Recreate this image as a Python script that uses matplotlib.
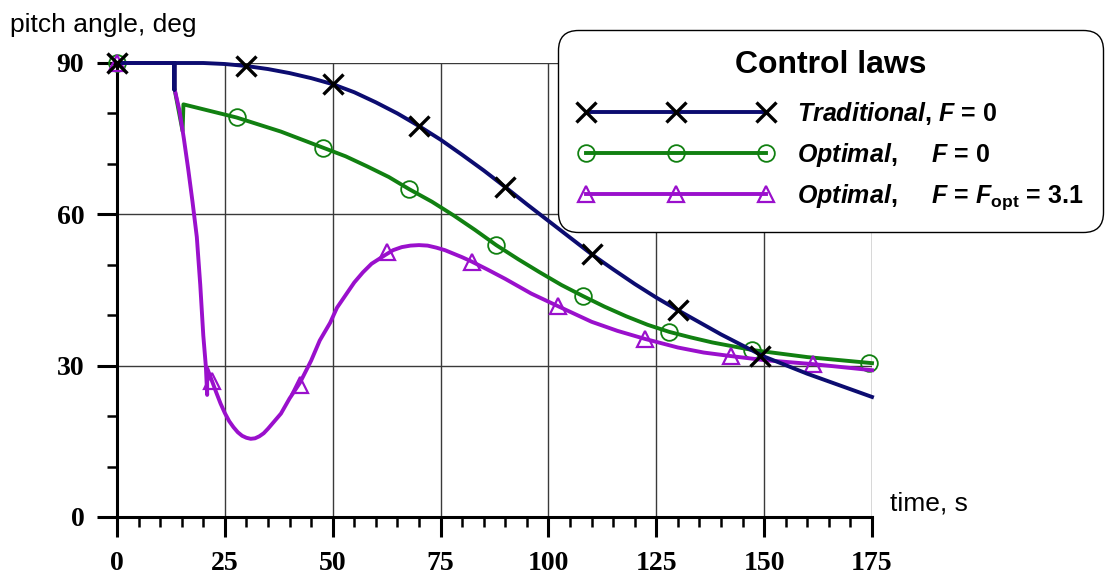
import matplotlib
matplotlib.use("Agg")
import matplotlib.pyplot as plt
from matplotlib.lines import Line2D
from matplotlib.ticker import MultipleLocator

plt.rcParams["mathtext.fontset"] = "custom"
plt.rcParams["mathtext.it"] = "Liberation Sans:italic:bold"
plt.rcParams["mathtext.rm"] = "Liberation Sans:bold"
plt.rcParams["mathtext.bf"] = "Liberation Sans:bold"

NAVY = "#0c0c70"
GREEN = "#118011"
PURPLE = "#9a10cc"

# ----- data --------------------------------------------------------------
trad_t = [0, 13.3, 13.3, 13.3, 20, 25, 30, 35, 40, 45, 50, 55, 60, 65, 70,
          75, 80, 85, 90, 95, 100, 105, 110, 115, 120, 125, 130, 140, 150,
          160, 175]
trad_y = [90, 90, 84.7, 90, 90, 89.8, 89.4, 88.8, 88.0, 87.0, 85.8, 84.2,
          82.2, 80.0, 77.5, 74.8, 71.8, 68.7, 65.4, 62.0, 58.7, 55.4, 52.1,
          49.1, 46.2, 43.5, 41.0, 36.2, 31.8, 28.4, 23.8]
trad_mk_t = [0, 30, 50, 70, 90, 110, 130, 149]
trad_mk_y = [90, 89.4, 85.8, 77.5, 65.4, 52.1, 41.0, 31.9]

opt_t = [0, 13.3, 13.3, 15.2, 15.4, 27.7, 38, 47.8, 53, 58, 63, 67.7, 73,
         78, 83, 87.9, 93, 98, 103, 108, 113, 118, 123, 128, 133, 138,
         147.3, 160, 175]
opt_y = [90, 90, 85, 76.5, 81.8, 79.2, 76.4, 73.2, 71.5, 69.5, 67.4, 65.0,
         62.5, 59.8, 56.9, 53.9, 51.1, 48.5, 46.0, 43.8, 41.7, 39.8, 38.1,
         36.7, 35.6, 34.6, 33.1, 31.7, 30.5]
opt_mk_t = [0, 27.7, 47.8, 67.7, 87.9, 108, 128, 147.3, 174.3]
opt_mk_y = [90, 79.2, 73.2, 65.0, 53.9, 43.8, 36.7, 33.1, 30.6]

fopt_t = [0, 13.3, 13.3, 14.5, 15.5, 16.5, 17.5, 18.5, 19.3, 20.0, 20.6,
          20.9, 20.9, 22, 23, 24, 25, 26, 27, 28, 29, 30, 31, 32, 33, 34,
          35, 36.5, 38, 40, 42.4, 45, 47, 49.4, 51, 53, 55, 57, 59, 62.1,
          64, 66, 68, 70, 72, 74, 76, 78, 80, 82.3, 86, 90, 96, 102.2, 110,
          116, 122.4, 130, 136, 142.3, 150, 161.4, 175]
fopt_y = [90, 90, 85, 80.5, 75, 69, 62.5, 55.5, 46, 36, 29.8, 24.2, 29.5,
          27, 24.7, 22.5, 20.6, 19.0, 17.8, 16.8, 16.1, 15.7, 15.5, 15.6,
          16.0, 16.6, 17.5, 19.0, 20.5, 23.5, 26.6, 31, 35, 38.5, 41.5,
          44, 46.5, 48.5, 50.2, 51.9, 52.9, 53.5, 53.8, 53.9, 53.8, 53.4,
          52.9, 52.2, 51.5, 50.6, 49.0, 47.2, 44.3, 41.8, 38.7, 36.9, 35.3,
          33.6, 32.6, 31.9, 31.1, 30.3, 29.1]
fopt_mk_t = [0, 22.0, 42.4, 62.6, 82.3, 102.2, 122.4, 142.3, 161.4]
fopt_mk_y = [90, 27.0, 26.2, 52.5, 50.6, 41.8, 35.3, 31.9, 30.3]

x_ticks = [0, 25, 50, 75, 100, 125, 150, 175]
y_ticks = [0, 30, 60, 90]

labels = [
    r"$\mathit{Traditional}$, $\mathit{F}$ = 0",
    r"$\mathit{Optimal}$,     $\mathit{F}$ = 0",
    r"$\mathit{Optimal}$,     $\mathit{F}$ = $\mathit{F}_{\mathrm{opt}}$ = 3.1",
]

# ----- figure -------------------------------------------------------------
fig = plt.figure(figsize=(11.05, 5.75), dpi=100)
ax = fig.add_axes([117 / 1105, 1 - 517 / 575, 755 / 1105, 454 / 575])

LW = 2.8
ax.plot(opt_t, opt_y, color=GREEN, lw=LW, zorder=3, clip_on=False)
ax.plot(opt_mk_t, opt_mk_y, ls="none", marker="o", ms=12, mfc="none",
        mec=GREEN, mew=1.3, zorder=3, clip_on=False)
ax.plot(fopt_t, fopt_y, color=PURPLE, lw=LW, zorder=4, clip_on=False)
ax.plot(fopt_mk_t, fopt_mk_y, ls="none", marker="^", ms=12, mfc="none",
        mec=PURPLE, mew=1.6, zorder=4, clip_on=False)
ax.plot(trad_t, trad_y, color=NAVY, lw=LW, zorder=5, clip_on=False)
ax.plot(trad_mk_t, trad_mk_y, ls="none", marker="x", ms=14, mec="black",
        mew=2.4, zorder=6, clip_on=False)

ax.set_xlim(0, 175)
ax.set_ylim(0, 90)
ax.set_xticks(x_ticks)
ax.set_yticks(y_ticks)
ax.xaxis.set_minor_locator(MultipleLocator(5))
ax.yaxis.set_minor_locator(MultipleLocator(10))
ax.grid(True, which="major", color="#3a3a3a", lw=1.0)
ax.set_axisbelow(True)
for s in ("top", "right"):
    ax.spines[s].set_visible(False)
for s in ("left", "bottom"):
    ax.spines[s].set_linewidth(2.2)
ax.tick_params(axis="x", which="major", direction="out", length=14.5,
               width=2.2, pad=10)
ax.tick_params(axis="y", which="major", direction="out", length=14.5,
               width=2.2, pad=9)
ax.tick_params(which="minor", direction="out", length=7.5, width=1.8)
tick_font = dict(family="Liberation Serif", weight="bold", size=20)
ax.set_xticklabels([str(v) for v in x_ticks], fontdict=tick_font)
ax.set_yticklabels([str(v) for v in y_ticks], fontdict=tick_font)

fig.text(10 / 1105, 1 - 32 / 575, "pitch angle, deg", family="Liberation Sans",
         size=19, va="baseline", ha="left")
fig.text(890 / 1105, 1 - 511 / 575, "time, s", family="Liberation Sans",
         size=19, va="baseline", ha="left")

handles = [
    Line2D([], [], color=NAVY, lw=LW, marker="x", ms=14, mec="black", mew=2.4),
    Line2D([], [], color=GREEN, lw=LW, marker="o", ms=12, mfc="none",
           mec=GREEN, mew=1.3),
    Line2D([], [], color=PURPLE, lw=LW, marker="^", ms=12, mfc="none",
           mec=PURPLE, mew=1.6),
]
leg = fig.legend(handles, labels, loc="upper right",
                 bbox_to_anchor=(1103 / 1105, 1 - 30 / 575),
                 numpoints=3, handlelength=7.8, handletextpad=0.93,
                 borderpad=0.8, labelspacing=0.55, borderaxespad=0,
                 prop=dict(family="Liberation Sans", weight="bold", size=18),
                 title="Control laws",
                 title_fontproperties=dict(family="Liberation Sans",
                                           weight="bold", size=23),
                 fancybox=True, framealpha=1, edgecolor="black")
leg._legend_box.sep = 14.5  # extra gap between title and entries
leg.get_frame().set_boxstyle("round,pad=0,rounding_size=0.8")
leg.get_frame().set_linewidth(1.0)
leg.set_zorder(10)

fig.savefig("out.png", dpi=100)
